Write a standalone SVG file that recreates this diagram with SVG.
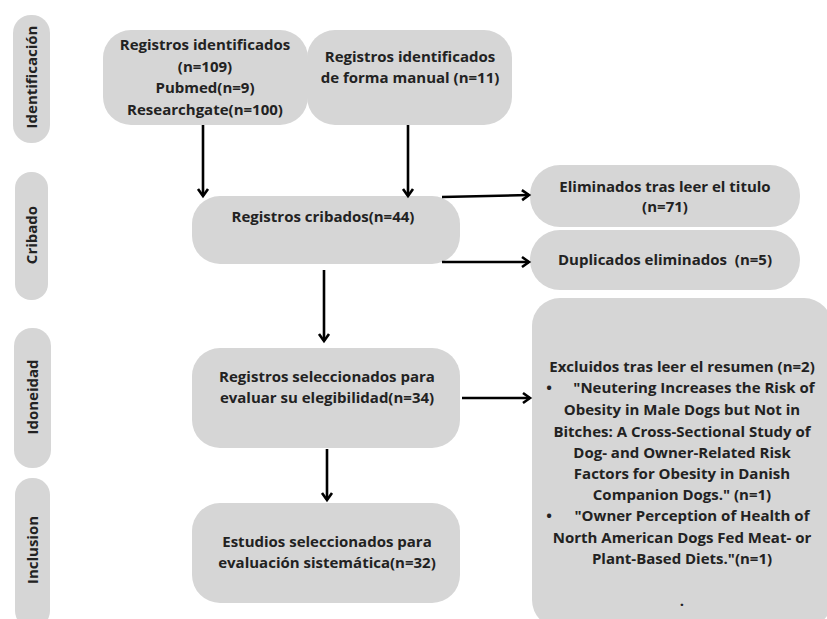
<svg xmlns="http://www.w3.org/2000/svg" width="827" height="619" viewBox="0 0 827 619">
<defs>
<style>
.box{fill:#d6d6d6;}
.t{font-family:"Open Sans","Liberation Sans",sans-serif;font-weight:700;font-size:15px;fill:#222;text-anchor:middle;}
.c{stroke:#000;stroke-width:2.6;fill:none;}
</style>
<marker id="ah" markerUnits="userSpaceOnUse" markerWidth="14" markerHeight="14" refX="10" refY="6" orient="auto" viewBox="0 0 14 12">
<path d="M3,1 L10,6 L3,11" fill="none" stroke="#000" stroke-width="2.6"/>
</marker>
</defs>
<rect width="827" height="619" fill="#fff"/>
<g id="phase-identificacion"><rect class="box" x="13" y="15" width="37" height="128" rx="18"/><text class="t" transform="translate(37,77) rotate(-90)">Identificación</text></g>
<g id="phase-cribado"><rect class="box" x="15" y="172" width="33" height="128" rx="16"/><text class="t" transform="translate(37,235) rotate(-90)">Cribado</text></g>
<g id="phase-idoneidad"><rect class="box" x="14" y="328" width="37" height="140" rx="18"/><text class="t" transform="translate(38,397) rotate(-90)">Idoneidad</text></g>
<g id="phase-inclusion"><rect class="box" x="15" y="478" width="35" height="150" rx="17"/><text class="t" transform="translate(38,550) rotate(-90)">Inclusion</text></g>

<g id="n1"><rect class="box" x="103" y="30" width="205" height="95" rx="28"/>
<text class="t" x="205" y="50">Registros identificados</text>
<text class="t" x="205" y="72">(n=109)</text>
<text class="t" x="205" y="93">Pubmed(n=9)</text>
<text class="t" x="205" y="115">Researchgate(n=100)</text></g>
<g id="n2"><rect class="box" x="307" y="30" width="205" height="95" rx="28"/>
<text class="t" x="410" y="62">Registros identificados</text>
<text class="t" x="410" y="83">de forma manual (n=11)</text></g>
<g id="n3"><rect class="box" x="192" y="196" width="268" height="68" rx="28"/>
<text class="t" x="323" y="222">Registros cribados(n=44)</text></g>
<g id="n4"><rect class="box" x="530" y="165" width="270" height="62" rx="30"/>
<text class="t" x="665" y="192">Eliminados tras leer el titulo</text>
<text class="t" x="665" y="212">(n=71)</text></g>
<g id="n5"><rect class="box" x="530" y="230" width="270" height="60" rx="30"/>
<text class="t" x="665" y="265">Duplicados eliminados&#160; (n=5)</text></g>
<g id="n6"><rect class="box" x="192" y="348" width="268" height="100" rx="28"/>
<text class="t" x="327" y="382">Registros seleccionados para</text>
<text class="t" x="327" y="403">evaluar su elegibilidad(n=34)</text></g>
<g id="n7"><rect class="box" x="192" y="503" width="268" height="100" rx="28"/>
<text class="t" x="327" y="547">Estudios seleccionados para</text>
<text class="t" x="327" y="568">evaluación sistemática(n=32)</text></g>
<g id="n8"><rect class="box" x="532" y="298" width="300" height="330" rx="28"/>
<text class="t" x="682" y="372">Excluidos tras leer el resumen (n=2)</text>
<text class="t" x="549" y="393">•</text>
<text class="t" x="694" y="393">"Neutering Increases the Risk of</text>
<text class="t" x="682" y="415">Obesity in Male Dogs but Not in</text>
<text class="t" x="682" y="437">Bitches: A Cross-Sectional Study of</text>
<text class="t" x="682" y="458">Dog- and Owner-Related Risk</text>
<text class="t" x="682" y="479">Factors for Obesity in Danish</text>
<text class="t" x="682" y="500">Companion Dogs." (n=1)</text>
<text class="t" x="549" y="521">•</text>
<text class="t" x="692" y="521">"Owner Perception of Health of</text>
<text class="t" x="682" y="543">North American Dogs Fed Meat- or</text>
<text class="t" x="682" y="564">Plant-Based Diets."(n=1)</text>
<text class="t" x="682" y="606">.</text></g>

<g id="connectors">
<line class="c" x1="203" y1="125" x2="203" y2="196" marker-end="url(#ah)"/>
<line class="c" x1="408" y1="125" x2="408" y2="196" marker-end="url(#ah)"/>
<line class="c" x1="442" y1="197" x2="529" y2="195" marker-end="url(#ah)"/>
<line class="c" x1="442" y1="262" x2="529" y2="262" marker-end="url(#ah)"/>
<line class="c" x1="324" y1="270" x2="324" y2="341" marker-end="url(#ah)"/>
<line class="c" x1="462" y1="398" x2="530" y2="398" marker-end="url(#ah)"/>
<line class="c" x1="327" y1="449" x2="327" y2="500" marker-end="url(#ah)"/>
</g>
</svg>
